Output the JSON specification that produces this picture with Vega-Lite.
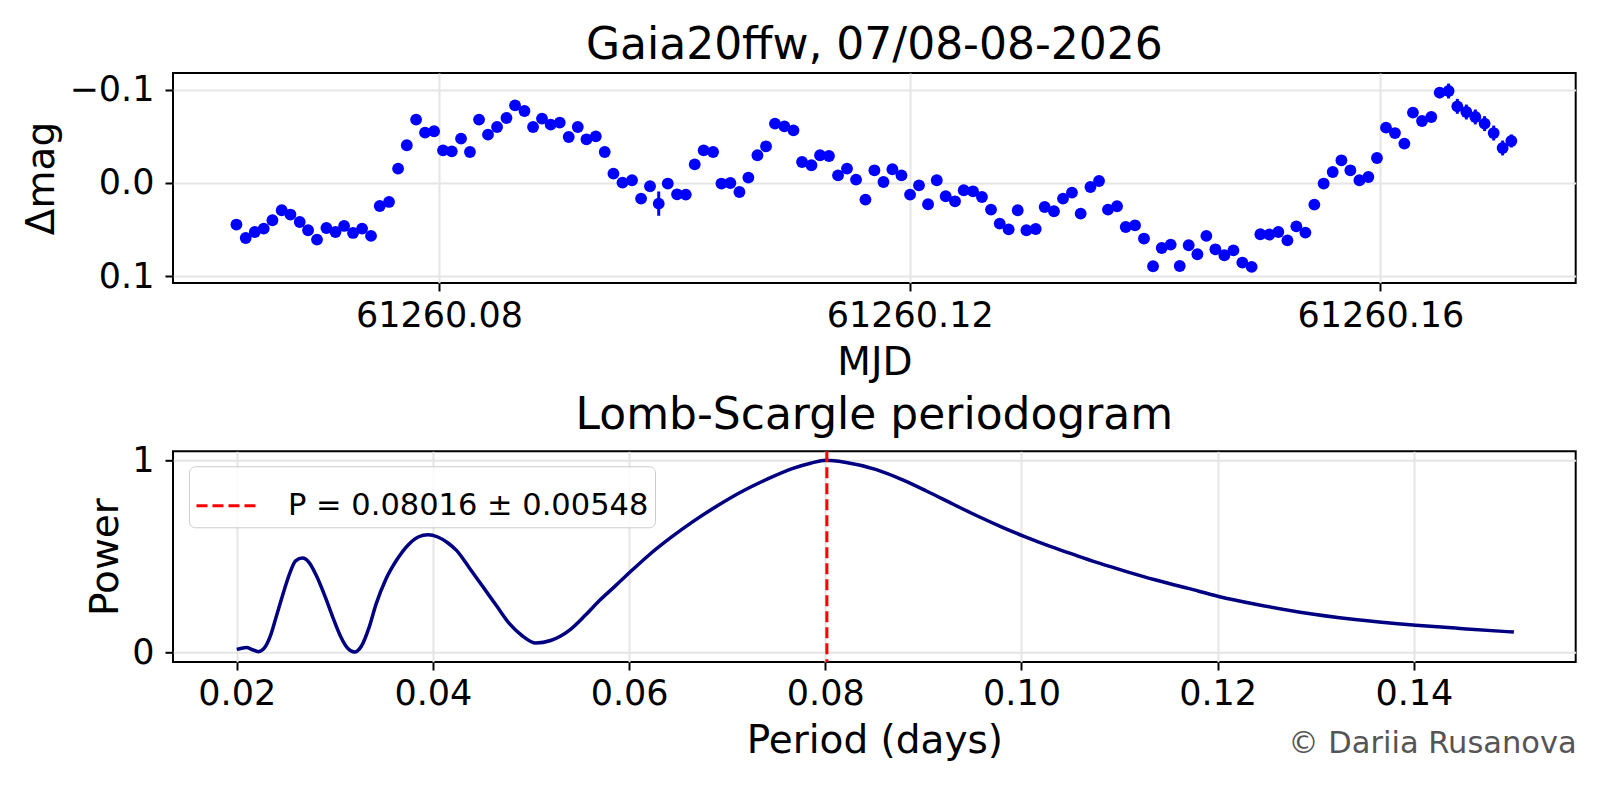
{
  "$schema": "https://vega.github.io/schema/vega-lite/v6.json",
  "background": "white",
  "padding": {"left": 21, "top": 22, "right": 20, "bottom": 10},
  "title": {
    "text": "© Dariia Rusanova",
    "orient": "bottom",
    "anchor": "end",
    "fontSize": 30.5,
    "color": "#555555",
    "offset": -33
  },
  "bounds": "flush",
  "spacing": 168.3,
  "config": {
    "font": "DejaVu Sans",
    "axis": {
      "domain": false,
      "tickColor": "black",
      "tickWidth": 2,
      "tickSize": 8,
      "labelFont": "DejaVu Sans",
      "labelFontSize": 35,
      "labelColor": "black",
      "titleFont": "DejaVu Sans",
      "titleFontSize": 39,
      "titleFontWeight": "normal",
      "titleColor": "black",
      "gridColor": "#e5e5e5",
      "gridWidth": 2
    },
    "axisX": {"labelPadding": 7, "titlePadding": 10},
    "axisY": {"labelPadding": 11},
    "title": {
      "font": "DejaVu Sans",
      "fontWeight": "normal",
      "fontSize": 44,
      "color": "black"
    },
    "view": {"stroke": "black", "strokeWidth": 2}
  },
  "vconcat": [
    {
      "width": 1402.7,
      "height": 210,
      "title": {"text": "Gaia20ffw, 07/08-08-2026", "offset": 5},
      "data": {
        "values": [
          {"mjd": 61260.06278, "dmag": 0.0445, "err": 0.003},
          {"mjd": 61260.06357, "dmag": 0.0589, "err": 0.003},
          {"mjd": 61260.06434, "dmag": 0.0525, "err": 0.003},
          {"mjd": 61260.06510, "dmag": 0.0488, "err": 0.003},
          {"mjd": 61260.06584, "dmag": 0.0399, "err": 0.003},
          {"mjd": 61260.06663, "dmag": 0.0292, "err": 0.003},
          {"mjd": 61260.06737, "dmag": 0.0338, "err": 0.003},
          {"mjd": 61260.06816, "dmag": 0.0418, "err": 0.003},
          {"mjd": 61260.06887, "dmag": 0.0506, "err": 0.003},
          {"mjd": 61260.06963, "dmag": 0.0606, "err": 0.003},
          {"mjd": 61260.07043, "dmag": 0.0482, "err": 0.003},
          {"mjd": 61260.07120, "dmag": 0.0525, "err": 0.003},
          {"mjd": 61260.07193, "dmag": 0.0460, "err": 0.003},
          {"mjd": 61260.07269, "dmag": 0.0535, "err": 0.003},
          {"mjd": 61260.07346, "dmag": 0.0488, "err": 0.003},
          {"mjd": 61260.07422, "dmag": 0.0567, "err": 0.003},
          {"mjd": 61260.07496, "dmag": 0.0246, "err": 0.003},
          {"mjd": 61260.07575, "dmag": 0.0203, "err": 0.003},
          {"mjd": 61260.07652, "dmag": -0.0154, "err": 0.003},
          {"mjd": 61260.07726, "dmag": -0.0404, "err": 0.005},
          {"mjd": 61260.07805, "dmag": -0.0679, "err": 0.003},
          {"mjd": 61260.07881, "dmag": -0.0540, "err": 0.003},
          {"mjd": 61260.07958, "dmag": -0.0554, "err": 0.003},
          {"mjd": 61260.08034, "dmag": -0.0350, "err": 0.003},
          {"mjd": 61260.08108, "dmag": -0.0339, "err": 0.003},
          {"mjd": 61260.08187, "dmag": -0.0475, "err": 0.003},
          {"mjd": 61260.08263, "dmag": -0.0332, "err": 0.003},
          {"mjd": 61260.08340, "dmag": -0.0679, "err": 0.003},
          {"mjd": 61260.08416, "dmag": -0.0518, "err": 0.003},
          {"mjd": 61260.08493, "dmag": -0.0600, "err": 0.003},
          {"mjd": 61260.08573, "dmag": -0.0696, "err": 0.003},
          {"mjd": 61260.08646, "dmag": -0.0832, "err": 0.003},
          {"mjd": 61260.08726, "dmag": -0.0771, "err": 0.003},
          {"mjd": 61260.08799, "dmag": -0.0600, "err": 0.003},
          {"mjd": 61260.08875, "dmag": -0.0690, "err": 0.003},
          {"mjd": 61260.08949, "dmag": -0.0625, "err": 0.003},
          {"mjd": 61260.09026, "dmag": -0.0647, "err": 0.003},
          {"mjd": 61260.09102, "dmag": -0.0493, "err": 0.003},
          {"mjd": 61260.09179, "dmag": -0.0600, "err": 0.003},
          {"mjd": 61260.09253, "dmag": -0.0468, "err": 0.003},
          {"mjd": 61260.09332, "dmag": -0.0500, "err": 0.003},
          {"mjd": 61260.09408, "dmag": -0.0332, "err": 0.003},
          {"mjd": 61260.09482, "dmag": -0.0101, "err": 0.003},
          {"mjd": 61260.09559, "dmag": -0.0004, "err": 0.003},
          {"mjd": 61260.09640, "dmag": -0.0029, "err": 0.003},
          {"mjd": 61260.09717, "dmag": 0.0167, "err": 0.003},
          {"mjd": 61260.09793, "dmag": 0.0035, "err": 0.003},
          {"mjd": 61260.09867, "dmag": 0.0221, "err": 0.013},
          {"mjd": 61260.09944, "dmag": 0.0006, "err": 0.003},
          {"mjd": 61260.10023, "dmag": 0.0121, "err": 0.003},
          {"mjd": 61260.10097, "dmag": 0.0124, "err": 0.003},
          {"mjd": 61260.10173, "dmag": -0.0200, "err": 0.003},
          {"mjd": 61260.10249, "dmag": -0.0350, "err": 0.003},
          {"mjd": 61260.10329, "dmag": -0.0332, "err": 0.003},
          {"mjd": 61260.10400, "dmag": 0.0006, "err": 0.003},
          {"mjd": 61260.10476, "dmag": 0.0000, "err": 0.003},
          {"mjd": 61260.10553, "dmag": 0.0096, "err": 0.003},
          {"mjd": 61260.10629, "dmag": -0.0058, "err": 0.003},
          {"mjd": 61260.10706, "dmag": -0.0297, "err": 0.003},
          {"mjd": 61260.10779, "dmag": -0.0393, "err": 0.003},
          {"mjd": 61260.10855, "dmag": -0.0636, "err": 0.003},
          {"mjd": 61260.10935, "dmag": -0.0607, "err": 0.003},
          {"mjd": 61260.11012, "dmag": -0.0564, "err": 0.003},
          {"mjd": 61260.11085, "dmag": -0.0225, "err": 0.003},
          {"mjd": 61260.11165, "dmag": -0.0190, "err": 0.003},
          {"mjd": 61260.11238, "dmag": -0.0297, "err": 0.003},
          {"mjd": 61260.11314, "dmag": -0.0289, "err": 0.003},
          {"mjd": 61260.11391, "dmag": -0.0082, "err": 0.003},
          {"mjd": 61260.11467, "dmag": -0.0154, "err": 0.003},
          {"mjd": 61260.11544, "dmag": -0.0036, "err": 0.003},
          {"mjd": 61260.11624, "dmag": 0.0178, "err": 0.003},
          {"mjd": 61260.11700, "dmag": -0.0136, "err": 0.003},
          {"mjd": 61260.11777, "dmag": -0.0011, "err": 0.003},
          {"mjd": 61260.11853, "dmag": -0.0147, "err": 0.003},
          {"mjd": 61260.11930, "dmag": -0.0082, "err": 0.003},
          {"mjd": 61260.12003, "dmag": 0.0124, "err": 0.003},
          {"mjd": 61260.12079, "dmag": 0.0025, "err": 0.003},
          {"mjd": 61260.12156, "dmag": 0.0228, "err": 0.003},
          {"mjd": 61260.12230, "dmag": -0.0029, "err": 0.003},
          {"mjd": 61260.12306, "dmag": 0.0142, "err": 0.003},
          {"mjd": 61260.12385, "dmag": 0.0196, "err": 0.003},
          {"mjd": 61260.12459, "dmag": 0.0078, "err": 0.003},
          {"mjd": 61260.12538, "dmag": 0.0089, "err": 0.003},
          {"mjd": 61260.12614, "dmag": 0.0150, "err": 0.003},
          {"mjd": 61260.12691, "dmag": 0.0285, "err": 0.003},
          {"mjd": 61260.12765, "dmag": 0.0435, "err": 0.003},
          {"mjd": 61260.12841, "dmag": 0.0496, "err": 0.003},
          {"mjd": 61260.12918, "dmag": 0.0292, "err": 0.003},
          {"mjd": 61260.12992, "dmag": 0.0506, "err": 0.003},
          {"mjd": 61260.13071, "dmag": 0.0493, "err": 0.003},
          {"mjd": 61260.13147, "dmag": 0.0257, "err": 0.003},
          {"mjd": 61260.13226, "dmag": 0.0303, "err": 0.003},
          {"mjd": 61260.13303, "dmag": 0.0167, "err": 0.003},
          {"mjd": 61260.13379, "dmag": 0.0103, "err": 0.003},
          {"mjd": 61260.13453, "dmag": 0.0328, "err": 0.003},
          {"mjd": 61260.13536, "dmag": 0.0043, "err": 0.003},
          {"mjd": 61260.13609, "dmag": -0.0021, "err": 0.003},
          {"mjd": 61260.13685, "dmag": 0.0285, "err": 0.003},
          {"mjd": 61260.13762, "dmag": 0.0249, "err": 0.004},
          {"mjd": 61260.13836, "dmag": 0.0471, "err": 0.003},
          {"mjd": 61260.13915, "dmag": 0.0453, "err": 0.004},
          {"mjd": 61260.13991, "dmag": 0.0595, "err": 0.003},
          {"mjd": 61260.14068, "dmag": 0.0892, "err": 0.003},
          {"mjd": 61260.14142, "dmag": 0.0696, "err": 0.003},
          {"mjd": 61260.14218, "dmag": 0.0660, "err": 0.004},
          {"mjd": 61260.14295, "dmag": 0.0889, "err": 0.003},
          {"mjd": 61260.14371, "dmag": 0.0667, "err": 0.003},
          {"mjd": 61260.14445, "dmag": 0.0763, "err": 0.003},
          {"mjd": 61260.14521, "dmag": 0.0567, "err": 0.003},
          {"mjd": 61260.14598, "dmag": 0.0710, "err": 0.003},
          {"mjd": 61260.14674, "dmag": 0.0774, "err": 0.003},
          {"mjd": 61260.14751, "dmag": 0.0721, "err": 0.005},
          {"mjd": 61260.14827, "dmag": 0.0852, "err": 0.003},
          {"mjd": 61260.14906, "dmag": 0.0899, "err": 0.003},
          {"mjd": 61260.14980, "dmag": 0.0549, "err": 0.003},
          {"mjd": 61260.15057, "dmag": 0.0552, "err": 0.003},
          {"mjd": 61260.15133, "dmag": 0.0525, "err": 0.004},
          {"mjd": 61260.15210, "dmag": 0.0614, "err": 0.003},
          {"mjd": 61260.15286, "dmag": 0.0464, "err": 0.004},
          {"mjd": 61260.15363, "dmag": 0.0531, "err": 0.003},
          {"mjd": 61260.15439, "dmag": 0.0231, "err": 0.003},
          {"mjd": 61260.15518, "dmag": 0.0006, "err": 0.003},
          {"mjd": 61260.15595, "dmag": -0.0118, "err": 0.003},
          {"mjd": 61260.15669, "dmag": -0.0243, "err": 0.003},
          {"mjd": 61260.15745, "dmag": -0.0136, "err": 0.003},
          {"mjd": 61260.15822, "dmag": -0.0029, "err": 0.003},
          {"mjd": 61260.15898, "dmag": -0.0064, "err": 0.004},
          {"mjd": 61260.15971, "dmag": -0.0268, "err": 0.003},
          {"mjd": 61260.16048, "dmag": -0.0593, "err": 0.003},
          {"mjd": 61260.16124, "dmag": -0.0535, "err": 0.003},
          {"mjd": 61260.16204, "dmag": -0.0422, "err": 0.003},
          {"mjd": 61260.16277, "dmag": -0.0754, "err": 0.004},
          {"mjd": 61260.16354, "dmag": -0.0664, "err": 0.003},
          {"mjd": 61260.16433, "dmag": -0.0707, "err": 0.004},
          {"mjd": 61260.16504, "dmag": -0.0968, "err": 0.006},
          {"mjd": 61260.16580, "dmag": -0.0985, "err": 0.008},
          {"mjd": 61260.16654, "dmag": -0.0821, "err": 0.008},
          {"mjd": 61260.16731, "dmag": -0.0760, "err": 0.008},
          {"mjd": 61260.16807, "dmag": -0.0707, "err": 0.008},
          {"mjd": 61260.16886, "dmag": -0.0636, "err": 0.008},
          {"mjd": 61260.16963, "dmag": -0.0535, "err": 0.008},
          {"mjd": 61260.17039, "dmag": -0.0375, "err": 0.008},
          {"mjd": 61260.17113, "dmag": -0.0450, "err": 0.007}
        ]
      },
      "encoding": {
        "x": {
          "field": "mjd",
          "type": "quantitative",
          "scale": {"domain": [61260.05739, 61260.1766], "nice": false, "zero": false},
          "axis": {"values": [61260.08, 61260.12, 61260.16], "format": ".2f", "title": "MJD"}
        },
        "y": {
          "field": "dmag",
          "type": "quantitative",
          "scale": {"domain": [-0.1178, 0.1071], "reverse": true, "nice": false, "zero": false},
          "axis": {"values": [-0.1, 0, 0.1], "format": ".1f", "title": "Δmag", "titlePadding": 8}
        }
      },
      "layer": [
        {
          "mark": {"type": "errorbar", "ticks": false, "color": "#0000ff", "thickness": 3},
          "encoding": {"yError": {"field": "err"}}
        },
        {
          "mark": {"type": "point", "filled": true, "size": 140, "color": "#0000ff", "opacity": 1}
        }
      ]
    },
    {
      "width": 1402.7,
      "height": 210.7,
      "title": {"text": "Lomb-Scargle periodogram", "offset": 5},
      "layer": [
        {
          "data": {
            "values": [
              {"period": 0.0200, "power": 0.014},
              {"period": 0.0205, "power": 0.020},
              {"period": 0.0210, "power": 0.023},
              {"period": 0.0216, "power": 0.012},
              {"period": 0.0222, "power": 0.002},
              {"period": 0.0228, "power": 0.020},
              {"period": 0.0234, "power": 0.080},
              {"period": 0.0240, "power": 0.180},
              {"period": 0.0247, "power": 0.300},
              {"period": 0.0254, "power": 0.410},
              {"period": 0.0260, "power": 0.475},
              {"period": 0.0267, "power": 0.490},
              {"period": 0.0274, "power": 0.465},
              {"period": 0.0281, "power": 0.400},
              {"period": 0.0290, "power": 0.290},
              {"period": 0.0298, "power": 0.180},
              {"period": 0.0306, "power": 0.080},
              {"period": 0.0313, "power": 0.020},
              {"period": 0.0320, "power": 0.000},
              {"period": 0.0327, "power": 0.030},
              {"period": 0.0335, "power": 0.130},
              {"period": 0.0342, "power": 0.250},
              {"period": 0.0352, "power": 0.380},
              {"period": 0.0363, "power": 0.480},
              {"period": 0.0375, "power": 0.560},
              {"period": 0.0385, "power": 0.600},
              {"period": 0.0395, "power": 0.612},
              {"period": 0.0405, "power": 0.600},
              {"period": 0.0415, "power": 0.570},
              {"period": 0.0424, "power": 0.530},
              {"period": 0.0437, "power": 0.440},
              {"period": 0.0451, "power": 0.340},
              {"period": 0.0465, "power": 0.240},
              {"period": 0.0478, "power": 0.148},
              {"period": 0.0491, "power": 0.085},
              {"period": 0.0505, "power": 0.047},
              {"period": 0.0520, "power": 0.060},
              {"period": 0.0539, "power": 0.113},
              {"period": 0.0555, "power": 0.190},
              {"period": 0.0570, "power": 0.270},
              {"period": 0.0586, "power": 0.345},
              {"period": 0.0601, "power": 0.417},
              {"period": 0.0620, "power": 0.505},
              {"period": 0.0642, "power": 0.595},
              {"period": 0.0665, "power": 0.680},
              {"period": 0.0690, "power": 0.763},
              {"period": 0.0716, "power": 0.840},
              {"period": 0.0740, "power": 0.900},
              {"period": 0.0767, "power": 0.958},
              {"period": 0.0785, "power": 0.985},
              {"period": 0.0801, "power": 1.000},
              {"period": 0.0820, "power": 0.990},
              {"period": 0.0852, "power": 0.951},
              {"period": 0.0880, "power": 0.895},
              {"period": 0.0903, "power": 0.840},
              {"period": 0.0930, "power": 0.772},
              {"period": 0.0954, "power": 0.712},
              {"period": 0.0980, "power": 0.652},
              {"period": 0.1002, "power": 0.605},
              {"period": 0.1030, "power": 0.550},
              {"period": 0.1057, "power": 0.502},
              {"period": 0.1080, "power": 0.462},
              {"period": 0.1108, "power": 0.418},
              {"period": 0.1135, "power": 0.378},
              {"period": 0.1170, "power": 0.332},
              {"period": 0.1201, "power": 0.290},
              {"period": 0.1240, "power": 0.248},
              {"period": 0.1284, "power": 0.208},
              {"period": 0.1340, "power": 0.170},
              {"period": 0.1402, "power": 0.140},
              {"period": 0.1450, "power": 0.122},
              {"period": 0.1502, "power": 0.104}
            ]
          },
          "mark": {"type": "line", "color": "#000080", "strokeWidth": 3.5, "interpolate": "monotone"},
          "encoding": {
            "x": {
              "field": "period",
              "type": "quantitative",
              "scale": {"domain": [0.0135, 0.1565], "nice": false, "zero": false},
              "axis": {"values": [0.02, 0.04, 0.06, 0.08, 0.10, 0.12, 0.14], "format": ".2f", "title": "Period (days)"}
            },
            "y": {
              "field": "power",
              "type": "quantitative",
              "scale": {"domain": [-0.052, 1.047], "nice": false, "zero": false},
              "axis": {"values": [0, 1], "format": "d", "title": "Power", "titlePadding": 6}
            }
          }
        },
        {
          "data": {"values": [{"period": 0.08016, "label": "P = 0.08016 ± 0.00548"}]},
          "mark": {"type": "rule", "strokeDash": [11, 5], "strokeWidth": 3},
          "encoding": {
            "x": {"field": "period", "type": "quantitative"},
            "color": {
              "field": "label",
              "type": "nominal",
              "scale": {"range": ["#ff0000"]},
              "legend": {
                "title": null,
                "orient": "none",
                "legendX": 16,
                "legendY": 393.3,
                "symbolType": "stroke",
                "symbolSize": 4096,
                "symbolStrokeWidth": 3,
                "symbolDash": [11, 5],
                "labelFontSize": 30.5,
                "labelFont": "DejaVu Sans",
                "labelColor": "black",
                "labelOffset": 26,
                "labelLimit": 1000,
                "padding": 6,
                "fillColor": "rgba(255,255,255,0.8)",
                "strokeColor": "#cccccc",
                "cornerRadius": 6
              }
            }
          }
        }
      ]
    }
  ]
}
